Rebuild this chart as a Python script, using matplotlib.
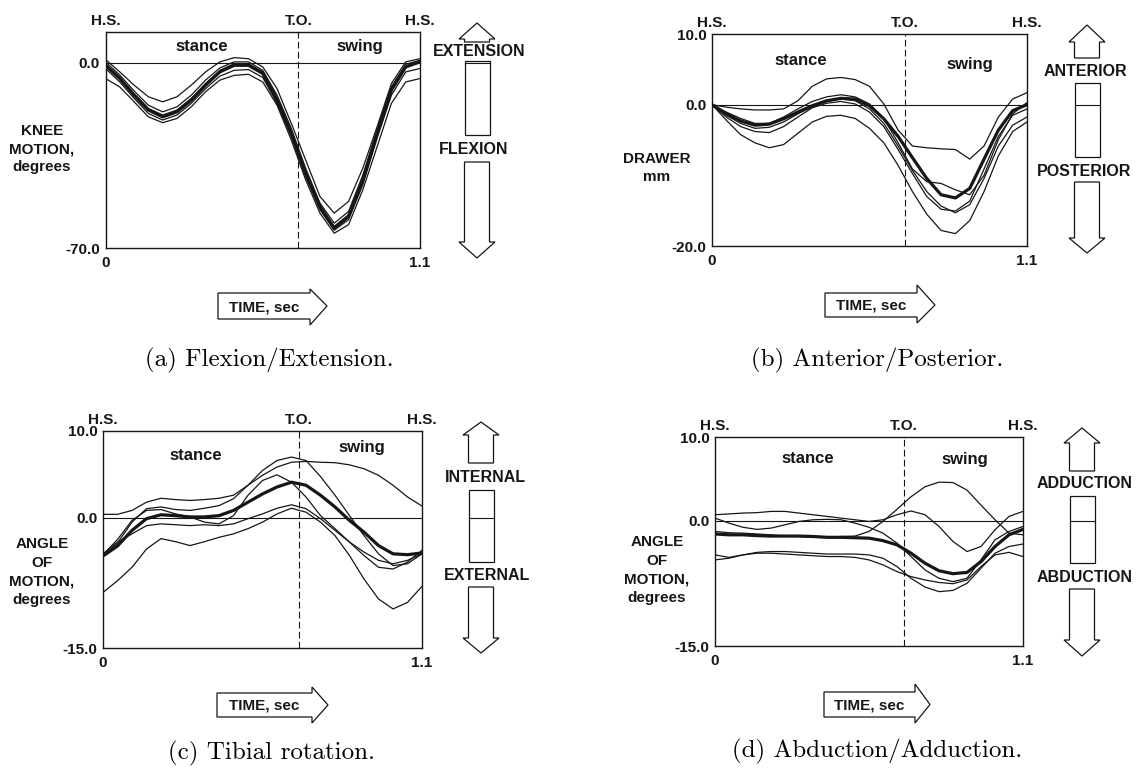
import matplotlib
matplotlib.use("Agg")  # no display available

import matplotlib.pyplot as plt
from matplotlib.patches import Polygon
from matplotlib.lines import Line2D
from matplotlib.transforms import blended_transform_factory

W, H = 1141, 769
INK = "#161616"
SANS = "Liberation Sans"
WEIGHT = "bold"

# common time base of one gait cycle (heel strike to heel strike), seconds
TIME_S = [0.00, 0.05, 0.10, 0.15, 0.20, 0.25, 0.30, 0.35, 0.40, 0.45, 0.50, 0.55,
          0.60, 0.65, 0.70, 0.75, 0.80, 0.85, 0.90, 0.95, 1.00, 1.05, 1.10]
TOE_OFF = 0.675

# (a) flexion / extension, degrees
FLEX_MEAN = [-0.9, -5.9, -12.2, -17.8, -20.4, -18.5, -14.1, -8.4, -3.4, -0.9, -0.9, -4.0,
             -14.1, -26.6, -41.7, -54.3, -62.5, -58.1, -44.2, -26.6, -10.3, -1.5, 0.4]
FLEX_TRIALS = [
    [1.3, -3.4, -8.4, -12.8, -14.7, -12.8, -8.4, -3.4, 0.4, 2.0, 1.6, -1.5,
     -9.7, -22.9, -36.7, -50.5, -56.8, -52.4, -39.8, -24.1, -7.8, 0.4, 1.6],
    [0.4, -4.6, -10.6, -16.0, -18.5, -16.6, -12.2, -6.5, -1.9, 0.4, 0.4, -2.8,
     -12.2, -24.8, -39.8, -53.0, -60.6, -56.2, -42.4, -25.4, -9.0, -0.5, 1.0],
    [-0.3, -5.5, -11.6, -17.2, -19.7, -17.8, -13.4, -7.8, -2.8, -0.3, -0.3, -3.4,
     -13.1, -26.0, -41.1, -54.0, -61.8, -57.4, -43.6, -26.0, -9.7, -1.1, 0.8],
    [-2.1, -7.2, -13.4, -19.1, -21.6, -19.7, -15.3, -9.7, -5.0, -2.8, -2.5, -5.5,
     -15.3, -27.9, -43.0, -55.5, -63.3, -59.3, -46.1, -28.5, -12.2, -3.4, -2.1],
    [-5.9, -9.1, -14.7, -20.4, -22.6, -21.0, -16.6, -10.9, -6.5, -4.7, -4.3, -7.2,
     -16.0, -29.2, -44.2, -56.8, -64.4, -61.2, -48.0, -31.7, -15.3, -7.2, -5.9],
]

# (b) anterior / posterior drawer, mm
DRAWER_MEAN = [0.0, -1.3, -2.3, -2.9, -2.75, -2.0, -1.05, -0.15, 0.55, 0.9, 0.8, -0.15,
               -2.0, -4.5, -7.5, -10.45, -12.75, -13.2, -11.85, -7.7, -3.6, -0.85, 0.0]
DRAWER_TRIALS = [
    [0.0, -0.35, -0.6, -0.75, -0.75, -0.6, 0.55, 2.6, 3.65, 3.85, 3.55, 2.6,
     0.1, -3.6, -5.85, -6.1, -6.25, -6.35, -7.7, -5.85, -1.75, 0.8, 1.7],
    [0.0, -2.2, -4.25, -5.4, -6.1, -5.65, -4.05, -2.45, -1.65, -1.5, -1.95, -3.35,
     -5.4, -8.6, -12.3, -15.5, -17.8, -18.25, -16.4, -12.3, -7.25, -3.8, -2.45],
    [0.0, -1.75, -3.1, -3.8, -3.95, -3.1, -1.75, -0.45, 0.2, 0.45, 0.1, -1.05,
     -3.1, -6.35, -9.75, -13.0, -14.8, -15.05, -13.65, -9.1, -4.5, -1.5, -0.6],
    [0.0, -1.05, -1.95, -2.65, -2.65, -1.75, -0.6, 0.45, 1.1, 1.4, 1.1, 0.1,
     -1.95, -5.4, -9.1, -10.9, -11.15, -12.05, -12.75, -10.0, -4.95, -1.3, 0.3],
    [0.0, -1.5, -2.65, -3.35, -3.2, -2.45, -1.3, -0.3, 0.45, 0.8, 0.55, -0.6,
     -2.65, -5.85, -9.3, -12.3, -14.35, -15.3, -14.15, -10.45, -5.85, -2.9, -1.75],
]

# (c) tibial rotation, degrees
ROT_MEAN = [-4.4, -3.25, -1.45, -0.1, 0.35, 0.25, 0.1, 0.1, 0.25, 0.85, 1.8, 2.75,
            3.55, 4.1, 3.75, 2.6, 1.25, -0.3, -1.65, -3.2, -4.15, -4.25, -4.05]
ROT_TRIALS = [
    [0.4, 0.4, 0.85, 1.8, 2.25, 2.1, 2.0, 2.1, 2.25, 2.6, 3.75, 4.9,
     5.85, 6.4, 6.5, 6.4, 6.35, 6.1, 5.65, 4.9, 3.75, 2.4, 1.35],
    [-4.4, -2.9, -0.5, 1.05, 1.25, 0.95, 0.85, 1.1, 1.4, 2.2, 3.75, 5.45,
     6.6, 7.0, 6.6, 4.75, 2.6, 0.25, -2.05, -4.15, -5.5, -5.3, -4.15],
    [-4.25, -2.5, -0.3, 0.85, 0.95, 0.45, 0.1, -0.5, -0.7, 0.25, 2.6, 4.3,
     4.95, 4.1, 2.4, 0.25, -1.25, -2.8, -4.35, -5.7, -5.9, -5.1, -3.75],
    [-4.15, -2.8, -1.85, -0.9, -0.7, -0.8, -0.9, -0.8, -0.9, -0.7, -0.1, 0.45,
     1.1, 1.5, 1.05, -0.1, -1.45, -2.8, -3.95, -4.9, -5.3, -4.9, -4.15],
    [-8.6, -7.25, -5.7, -3.6, -2.4, -2.75, -3.2, -2.75, -2.25, -1.85, -1.25, -0.5,
     0.45, 1.1, 0.65, -0.5, -2.05, -4.35, -7.05, -9.35, -10.5, -9.75, -7.9],
]

# (d) abduction / adduction, degrees
ABD_MEAN = [-1.6, -1.7, -1.7, -1.8, -1.85, -1.85, -1.85, -1.9, -2.0, -2.0, -2.05, -2.1,
            -2.4, -2.9, -3.9, -5.1, -6.0, -6.35, -6.2, -4.9, -3.1, -1.7, -1.05]
ABD_TRIALS = [
    [-1.3, -1.45, -1.5, -1.6, -1.7, -1.85, -1.9, -2.0, -2.0, -1.9, -1.85, -1.3,
     -0.1, 1.35, 2.85, 4.05, 4.6, 4.55, 3.65, 1.85, 0.1, -1.5, -1.7],
    [0.7, 0.8, 0.9, 0.95, 1.1, 1.1, 0.9, 0.7, 0.5, 0.3, 0.1, -0.1,
     0.1, 0.7, 1.15, 0.7, -0.7, -2.5, -3.7, -3.1, -1.1, 0.5, 1.1],
    [0.3, -0.3, -0.8, -1.05, -0.9, -0.5, -0.1, 0.1, 0.15, 0.1, -0.3, -0.8,
     -1.5, -2.7, -4.3, -5.9, -6.9, -7.3, -6.9, -4.7, -2.3, -1.3, -0.7],
    [-4.1, -4.4, -4.1, -3.8, -3.7, -3.7, -3.8, -3.9, -4.0, -4.0, -4.0, -4.1,
     -4.5, -5.5, -6.9, -7.95, -8.5, -8.35, -7.5, -5.7, -3.9, -3.1, -2.8],
    [-4.7, -4.5, -4.1, -3.9, -3.9, -4.0, -4.1, -4.2, -4.3, -4.3, -4.4, -4.7,
     -5.3, -6.1, -6.7, -7.1, -7.4, -7.55, -7.1, -5.5, -4.1, -3.8, -4.3],
]


def px(x, y):
    """pixel position (origin top left) -> figure fraction"""
    return x / W, 1 - y / H


def outline(fig, pts):
    fig.add_artist(Polygon([px(x, y) for x, y in pts], closed=True, fill=False,
                           ec=INK, lw=0.9, transform=fig.transFigure))


def sans(fig, x, y, s, size=11, **kw):
    fig.text(*px(x, y), s, ha="center", va="center", fontsize=size,
             family=SANS, weight=WEIGHT, color=INK, **kw)


def direction_key(fig, ax, cx, up, top_label, box, bottom_label, down, sw=12.5, hw=18):
    tip, base, end = up
    outline(fig, [(cx, tip), (cx + hw, base), (cx + sw, base), (cx + sw, end),
                  (cx - sw, end), (cx - sw, base), (cx - hw, base)])
    sans(fig, top_label[1], top_label[2], top_label[0], size=11.5)
    outline(fig, [(cx - sw, box[0]), (cx + sw, box[0]), (cx + sw, box[1]), (cx - sw, box[1])])
    # zero level of the plot carried across the key
    tr = blended_transform_factory(fig.transFigure, ax.transData)
    fig.add_artist(Line2D([(cx - sw) / W, (cx + sw) / W], [0, 0], transform=tr,
                          color=INK, lw=0.8))
    sans(fig, bottom_label[1], bottom_label[2], bottom_label[0], size=11.5)
    start, base, tip = down
    outline(fig, [(cx - sw, start), (cx + sw, start), (cx + sw, base), (cx + hw, base),
                  (cx, tip), (cx - hw, base), (cx - sw, base)])


def time_arrow(fig, left, base, tip, top, bottom, head_top, head_bottom):
    mid = (top + bottom) / 2
    outline(fig, [(left, top), (base, top), (base, head_top), (tip, mid),
                  (base, head_bottom), (base, bottom), (left, bottom)])
    sans(fig, (left + base) / 2, mid + 1, "TIME, sec", size=11)


PANELS = [
    dict(mean=FLEX_MEAN, trials=FLEX_TRIALS, box=(105.5, 32, 420, 248),
         ylim=(-70, 11.7), yticks=[0, -70], ylabels=["0.0", "-70.0"],
         stance=(0.307, 0.935), swing=(0.809, 0.935),
         ylabel="KNEE\nMOTION,\ndegrees", ylabel_xy=(42, 149),
         key=dict(cx=477, up=(23, 39, 42), top_label=("EXTENSION", 479, 52), box=(61, 135),
                  bottom_label=("FLEXION", 474, 150), down=(162, 242, 258)),
         time=(218, 310, 327, 293, 319, 289, 325),
         caption="(a) Flexion/Extension.", caption_xy=(269, 360)),
    dict(mean=DRAWER_MEAN, trials=DRAWER_TRIALS, box=(712, 34, 1027, 246),
         ylim=(-20, 10), yticks=[10, 0, -20], ylabels=["10.0", "0.0", "-20.0"],
         stance=(0.283, 0.877), swing=(0.819, 0.854),
         ylabel="DRAWER\nmm", ylabel_xy=(657, 168),
         key=dict(cx=1087, up=(25, 42, 58), top_label=("ANTERIOR", 1085, 72), box=(83, 157),
                  bottom_label=("POSTERIOR", 1084, 172), down=(182, 238, 253)),
         time=(825, 917, 935, 293, 317, 285, 323),
         caption="(b) Anterior/Posterior.", caption_xy=(877, 360)),
    dict(mean=ROT_MEAN, trials=ROT_TRIALS, box=(103, 431, 422, 648),
         ylim=(-15, 10), yticks=[10, 0, -15], ylabels=["10.0", "0.0", "-15.0"],
         stance=(0.292, 0.885), swing=(0.812, 0.926),
         ylabel="ANGLE\nOF\nMOTION,\ndegrees", ylabel_xy=(42, 572),
         key=dict(cx=481, up=(422, 435, 463), top_label=("INTERNAL", 485, 478), box=(490, 562),
                  bottom_label=("EXTERNAL", 487, 576), down=(587, 638, 653)),
         time=(217, 312, 328, 693, 717, 687, 723),
         caption="(c) Tibial rotation.", caption_xy=(271, 753)),
    dict(mean=ABD_MEAN, trials=ABD_TRIALS, box=(715, 437, 1023, 646),
         ylim=(-15, 10), yticks=[10, 0, -15], ylabels=["10.0", "0.0", "-15.0"],
         stance=(0.302, 0.895), swing=(0.812, 0.89),
         ylabel="ANGLE\nOF\nMOTION,\ndegrees", ylabel_xy=(657, 570),
         key=dict(cx=1082, up=(428, 443, 471), top_label=("ADDUCTION", 1085, 484), box=(496, 563),
                  bottom_label=("ABDUCTION", 1085, 577), down=(589, 640, 656)),
         time=(824, 915, 930, 692, 717, 684, 723),
         caption="(d) Abduction/Adduction.", caption_xy=(877, 751)),
]

fig = plt.figure(figsize=(W / 100, H / 100), dpi=100)
fig.patch.set_facecolor("white")

for p in PANELS:
    left, top, right, bottom = p["box"]
    ax = fig.add_axes([left / W, 1 - bottom / H, (right - left) / W, (bottom - top) / H])

    for trial in p["trials"]:
        ax.plot(TIME_S, trial, color=INK, lw=0.9)
    ax.plot(TIME_S, p["mean"], color=INK, lw=2.3)

    ax.axhline(0, color=INK, lw=0.8)
    ax.axvline(TOE_OFF, color=INK, lw=0.8, ls=(0, (6, 3)))

    ax.set_xlim(0, 1.1)
    ax.set_ylim(*p["ylim"])
    ax.set_xticks([0, 1.1], ["0", "1.1"])
    ax.set_yticks(p["yticks"], p["ylabels"])
    ax.tick_params(length=0, labelsize=11, colors=INK)
    ax.tick_params(axis="x", pad=6)
    ax.tick_params(axis="y", pad=4)
    for lab in ax.get_xticklabels() + ax.get_yticklabels():
        lab.set_family(SANS)
        lab.set_weight(WEIGHT)
    for sp in ax.spines.values():
        sp.set_linewidth(1.0)
        sp.set_color(INK)

    # gait events along the top edge
    for t, s in [(0, "H.S."), (TOE_OFF, "T.O."), (1.1, "H.S.")]:
        ax.annotate(s, xy=(t, 1), xycoords=("data", "axes fraction"), xytext=(0, 8),
                    textcoords="offset points", ha="center", va="center",
                    fontsize=11, family=SANS, weight=WEIGHT, color=INK,
                    annotation_clip=False)
    ax.text(*p["stance"], "stance", transform=ax.transAxes, ha="center", va="center",
            fontsize=12, family=SANS, weight=WEIGHT, color=INK)
    ax.text(*p["swing"], "swing", transform=ax.transAxes, ha="center", va="center",
            fontsize=12, family=SANS, weight=WEIGHT, color=INK)

    sans(fig, *p["ylabel_xy"], p["ylabel"], size=11, linespacing=1.4)
    direction_key(fig, ax, **p["key"])
    time_arrow(fig, *p["time"])
    fig.text(*px(*p["caption_xy"]), p["caption"], ha="center", va="center",
             fontsize=18, family="cmr10", color="black")

fig.savefig("out.png", dpi=100, facecolor="white")
